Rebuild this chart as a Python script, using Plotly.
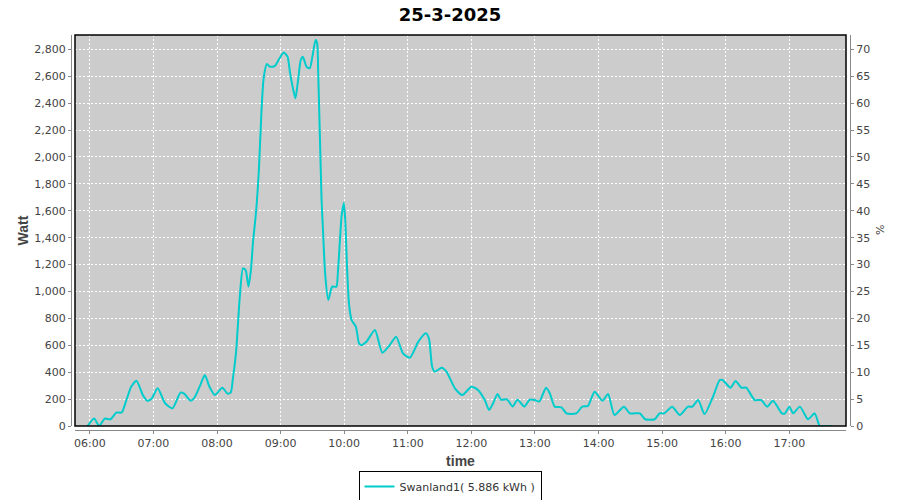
import plotly.graph_objects as go

day = "2025-03-25"
times = [
    "05:58:00", "06:04:00", "06:09:00", "06:14:00", "06:19:30", "06:25:00", "06:30:00", "06:34:30",
    "06:39:00", "06:44:00", "06:50:00", "06:54:00", "06:58:00", "07:04:00", "07:11:00", "07:18:00",
    "07:25:30", "07:29:00", "07:35:00", "07:39:00", "07:44:00", "07:48:30", "07:53:00", "07:58:00",
    "08:05:00", "08:10:00", "08:13:00", "08:15:00", "08:18:00", "08:21:30", "08:24:30", "08:27:00",
    "08:29:40", "08:32:00", "08:34:00", "08:37:00", "08:39:30", "08:42:00", "08:44:00", "08:47:00",
    "08:50:00", "08:54:30", "08:59:00", "09:03:00", "09:06:30", "09:09:00", "09:12:00", "09:14:00",
    "09:16:30", "09:19:00", "09:21:00", "09:24:30", "09:27:30", "09:30:00", "09:33:00", "09:34:30",
    "09:35:30", "09:37:00", "09:38:40", "09:40:00", "09:42:00", "09:45:00", "09:48:40", "09:52:40",
    "09:54:00", "09:56:00", "09:57:30", "09:59:40", "10:01:00", "10:02:40", "10:04:30", "10:07:00",
    "10:11:00", "10:14:00", "10:16:00", "10:21:00", "10:29:00", "10:36:00", "10:43:00", "10:49:00",
    "10:55:30", "11:02:00", "11:10:00", "11:17:00", "11:20:00", "11:23:00", "11:25:30", "11:32:00",
    "11:36:30", "11:44:30", "11:51:30", "12:00:00", "12:06:00", "12:12:40", "12:16:40", "12:20:30",
    "12:24:40", "12:28:00", "12:33:40", "12:39:00", "12:43:30", "12:50:00", "12:55:00", "13:00:00",
    "13:04:00", "13:10:30", "13:14:00", "13:18:40", "13:25:00", "13:29:40", "13:39:00", "13:44:40",
    "13:50:00", "13:56:20", "14:03:40", "14:09:00", "14:15:00", "14:24:00", "14:29:30", "14:39:00",
    "14:44:00", "14:53:00", "14:57:30", "15:02:00", "15:09:30", "15:16:40", "15:24:20", "15:28:30",
    "15:34:00", "15:40:00", "15:48:00", "15:54:20", "15:57:00", "16:04:30", "16:09:20", "16:14:40",
    "16:19:20", "16:27:20", "16:33:30", "16:39:00", "16:44:40", "16:53:00", "16:56:00", "17:00:00",
    "17:03:40", "17:10:00", "17:17:40", "17:24:00", "17:28:40", "17:33:00", "17:40:00",
]
watt = [
    0, 55, 0, 55, 50, 100, 100, 193,
    292, 337, 230, 188, 200, 280, 169, 131,
    248, 240, 188, 215, 300, 379, 290, 230,
    285, 240, 250, 354, 552, 961, 1172, 1160,
    1036, 1160, 1370, 1606, 1903, 2349, 2585, 2691,
    2671, 2676, 2734, 2776, 2746, 2622, 2498, 2436,
    2572, 2721, 2746, 2671, 2660, 2746, 2870, 2845,
    2622, 2176, 1680, 1457, 1135, 937, 1036, 1036,
    1135, 1383, 1556, 1660, 1531, 1185, 912, 788,
    738, 615, 602, 627, 714, 545, 602, 664,
    540, 508, 627, 689, 650, 441, 404, 434,
    404, 280, 230, 292, 270, 193, 119, 169,
    238, 195, 198, 144, 195, 144, 195, 193,
    181, 285, 243, 144, 139, 94, 94, 144,
    149, 255, 188, 238, 82, 144, 94, 94,
    50, 50, 94, 94, 144, 82, 144, 144,
    193, 89, 218, 342, 342, 285, 335, 285,
    285, 193, 193, 144, 188, 94, 94, 144,
    94, 144, 50, 94, 0, 0, 0,
]
x_ticks = ["06:00", "07:00", "08:00", "09:00", "10:00", "11:00", "12:00",
           "13:00", "14:00", "15:00", "16:00", "17:00"]
series_name = "Swanland1( 5.886 kWh )"
title_text = "25-3-2025"
right_axis_title = "%"

x_vals = [f"{day} {t}" for t in times]
tick_vals = [f"{day} {t}:00" for t in x_ticks]

W_MAX = 2907
PCT_PER_W = 1 / 40.0

tick_font = dict(family="DejaVu Sans", size=11, color="#444444")
label_font = dict(family="Liberation Sans", size=14, color="#444444", weight="bold")

fig = go.Figure()
fig.add_trace(go.Scatter(
    x=x_vals, y=watt, mode="lines", name=series_name,
    line=dict(color="#00CCCC", width=2, shape="spline", smoothing=0.6),
))
# invisible trace to activate right axis
fig.add_trace(go.Scatter(x=[x_vals[0]], y=[0], yaxis="y2", mode="lines",
                         showlegend=False, hoverinfo="skip", line=dict(width=0)))

pw = 779.0
ph = 395.0
fig.update_layout(
    width=900, height=500,
    margin=dict(l=71, r=50, t=35, b=70, autoexpand=False),
    paper_bgcolor="white",
    plot_bgcolor="#cccccc",
    title=dict(text=f"<b>{title_text}</b>", x=0.5, xref="container", xanchor="center",
               y=1 - 15 / 500, yref="container", yanchor="middle",
               font=dict(family="DejaVu Sans", size=18, color="black")),
    xaxis=dict(
        domain=[4 / pw, 775 / pw], anchor="free", position=0,
        range=[f"{day} 05:46:00", f"{day} 17:53:30"],
        tickvals=tick_vals, ticktext=x_ticks,
        showgrid=True, gridcolor="white", griddash="2px,2px", gridwidth=1,
        showline=True, linecolor="#888888", linewidth=1,
        ticks="outside", ticklen=3, tickcolor="#888888",
        tickfont=tick_font, zeroline=False, automargin=False,
        title=dict(text="time", font=label_font, standoff=6),
    ),
    yaxis=dict(
        domain=[4 / ph, 1], anchor="free", position=0,
        range=[0, W_MAX], dtick=200, tickformat=",d",
        showgrid=True, gridcolor="white", griddash="2px,2px", gridwidth=1,
        showline=True, linecolor="#888888", linewidth=1,
        ticks="outside", ticklen=3, tickcolor="#888888",
        tickfont=tick_font, zeroline=False, automargin=False,
        title=dict(text="Watt", font=label_font, standoff=1),
    ),
    yaxis2=dict(
        domain=[4 / ph, 1], anchor="free", position=1, overlaying="y", side="right",
        range=[0, W_MAX * PCT_PER_W], dtick=5, showgrid=False,
        showline=True, linecolor="#888888", linewidth=1,
        ticks="outside", ticklen=3, tickcolor="#888888",
        tickfont=tick_font, zeroline=False, automargin=False,
    ),
    showlegend=True,
    legend=dict(
        orientation="h", x=0.5, xref="container", xanchor="center",
        y=1 - 471 / 500, yref="container", yanchor="top",
        bordercolor="black", borderwidth=1, bgcolor="white",
        font=dict(family="DejaVu Sans", size=11, color="#333333"),
        itemwidth=30, tracegroupgap=0,
    ),
)
fig.add_annotation(text=right_axis_title, xref="paper", yref="paper",
                   x=(880 - 71) / pw, y=(430 - 230) / ph, showarrow=False,
                   textangle=-90, xanchor="center", yanchor="middle",
                   font=dict(family="DejaVu Sans", size=11, color="#444444"))
fig.add_shape(type="rect", xref="x domain", yref="y domain", x0=0, x1=1, y0=0, y1=1,
              line=dict(color="black", width=1.5), fillcolor="rgba(0,0,0,0)", layer="above")

fig.write_html(
    "out.html",
    config={"displayModeBar": False},
    post_script="document.body.style.margin='0';document.body.style.overflow='hidden';",
)
